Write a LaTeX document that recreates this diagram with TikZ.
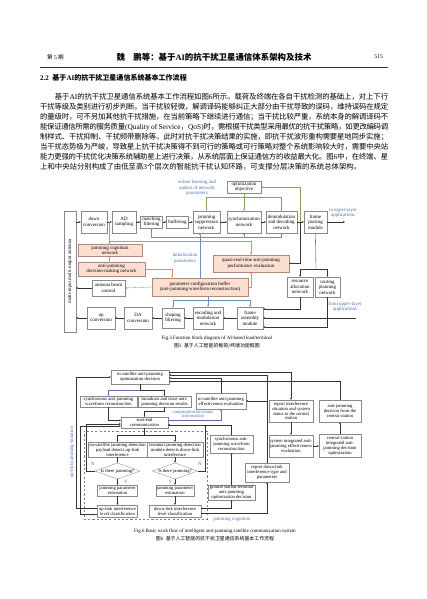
\documentclass[tikz,border=0pt]{standalone}
\usepackage{fontspec}
\setmainfont{Liberation Serif}
\newfontfamily\cjk{Noto Sans CJK SC}
\usetikzlibrary{arrows.meta, positioning, shapes.geometric, calc}

\XeTeXlinebreaklocale "zh"
\XeTeXlinebreakskip=0pt plus 2pt minus 0.6pt

\definecolor{boxline}{HTML}{8A8A8A}
\definecolor{orbox}{HTML}{B08878}
\definecolor{orfill}{HTML}{FBE0D2}
\definecolor{orline}{HTML}{E38A5E}
\definecolor{bline}{HTML}{6F8FC2}
\definecolor{btext}{HTML}{4B70AD}
\definecolor{gline}{HTML}{82A35A}
\definecolor{pline}{HTML}{7B5EAD}

\newcommand{\latn}[1]{{\rmfamily #1}}

\begin{document}
\begin{tikzpicture}[x=0.5mm, y=-0.5mm,
    blk/.style={rectangle, draw=boxline, line width=0.5pt, fill=white,
        align=center, inner xsep=0.5pt, inner ysep=0.5pt,
        font=\fontsize{7}{7.8}\selectfont},
    oblk/.style={blk, fill=orfill, draw=orbox},
    fblk/.style={blk, font=\fontsize{6.6}{7}\selectfont},
    dia/.style={diamond, aspect=2.8, draw=boxline, line width=0.5pt,
        fill=white, inner sep=0pt, font=\fontsize{6.6}{7}\selectfont},
    sz/.style 2 args={minimum width=#1*0.5mm, minimum height=#2*0.5mm},
    lbl/.style={align=center, inner sep=0pt, text=btext,
        font=\fontsize{7}{7.8}\selectfont},
    ln/.style={draw=black!80, line width=0.45pt},
    arr/.style={ln, -{Triangle[length=2.5pt, width=2.1pt]}},
    oarr/.style={arr, draw=orline},
    barr/.style={arr, draw=bline},
    garr/.style={arr, draw=gline},
    parr/.style={arr, draw=pline}
]

    \useasboundingbox[fill=white] (0,0) rectangle (427,599);

    % Page head ------------------------------------------------------

    \node[anchor=west, inner sep=0pt, font=\cjk\fontsize{8}{9}\selectfont] (issue) at (47,57) {第 \latn{5} 期};
    \node[inner sep=0pt, font=\cjk\bfseries\fontsize{12}{13}\selectfont] (title) at (214,57)
        {魏\hspace{1em}鹏等：基于\latn{\bfseries AI}的抗干扰卫星通信体系架构及技术};
    \node[anchor=east, inner sep=0pt, font=\fontsize{8}{9}\selectfont] (page) at (383,57) {515};
    \draw[line width=1.2pt, black!80] (40,67) -- (388,67);

    \node[anchor=west, inner sep=0pt, font=\cjk\bfseries\fontsize{10}{11}\selectfont] (sect) at (40,78)
        {\latn{\bfseries 2.2}\hspace{0.5em}基于\latn{\bfseries AI}的抗干扰卫星通信系统基本工作流程};

    \node[anchor=north west, inner sep=0pt, text width=174mm, align=justify,
        font=\cjk\fontsize{10.5}{14.2}\selectfont] (para) at (40,93.5) {%
        \hspace*{2em}基于\latn{AI}的抗干扰卫星通信系统基本工作流程如图\latn{6}所示。载荷及终端在各自干扰检测的基础上，对上下行\linebreak
        干扰等级及类别进行初步判断。当干扰较轻微，解调译码能够纠正大部分由干扰导致的误码，维持误码在规定\linebreak
        的量级时，可不另加其他抗干扰措施，在当前策略下继续进行通信；当干扰比较严重，系统本身的解调译码不\linebreak
        能保证通信所需的服务质量\latn{(Quality of Service}，\latn{QoS)}时，需根据干扰类型采用最优的抗干扰策略，如更改编码调\linebreak
        制样式、干扰抑制、干扰频带删除等。此时对抗干扰决策结果的实施，即抗干扰波形重构需要星地同步实施；\linebreak
        当干扰态势极为严峻，导致星上抗干扰决策得不到可行的策略或可行策略对整个系统影响较大时，需要中央站\linebreak
        能力更强的干扰优化决策系统辅助星上进行决策，从系统层面上保证通信方的收益最大化。图\latn{6}中，在终端、星\linebreak
        上和中央站分别构成了由低至高\latn{3}个层次的智能抗干扰认知环路，可支撑分层决策的系统总体架构。};

    % Fig.5 nodes ----------------------------------------------------

    \node[lbl] (olu) at (197,188) {online learning and\\update of network\\parameters};
    \node[blk, sz={34}{12}] (opt) at (244,187) {optimization\\objective};
    \node[blk, rotate=90, sz={121}{12}] (mimo) at (70,271.5) {multi-input multi-output antenna};

    \node[blk, sz={26}{22}] (dc) at (94,222) {down\\conversion};
    \node[blk, sz={24}{22}] (ad) at (124,222) {AD\\sampling};
    \node[blk, sz={22}{12}] (mf) at (151.5,222) {matching\\filtering};
    \node[blk, sz={22}{12}] (buf) at (177.5,222) {buffering};
    \node[blk, sz={27}{22}] (js) at (206.5,222) {jamming\\suppression\\network};
    \node[blk, sz={34}{22}] (sync) at (244,222) {synchronization\\network};
    \node[blk, sz={31}{22}] (demod) at (281.5,222) {demodulation\\and decoding\\network};
    \node[blk, sz={23}{22}] (fp) at (315.5,222) {frame\\parsing\\module};
    \node[lbl] (toup) at (343,213) {to upper-layer\\applications};
    \coordinate (out) at (345,222);

    \node[oblk, sz={64}{12}] (jc) at (110,250.5) {jamming cognition\\network};
    \node[oblk, sz={67}{14}] (ajd) at (111.5,269) {anti-jamming\\decision-making network};
    \node[oblk, sz={76}{17}] (qrt) at (251,263.5) {quasi-real-time anti-jamming\\performance evaluation};
    \node[lbl] (initp) at (185,258.5) {initialization\\parameters};
    \node[blk, sz={33}{16}] (abc) at (108.5,288) {antenna beam\\control};
    \node[oblk, sz={96}{18}] (pcb) at (200,287) {parameter configuration buffer\\(anti-jamming waveform reconstruction)};
    \node[blk, sz={26}{20}] (ran) at (300,287) {resource\\allocation\\network};
    \node[blk, sz={25}{20}] (rpn) at (327.5,287) {routing\\planning\\network};

    \node[blk, sz={28}{22}] (upc) at (101,318) {up\\conversion};
    \node[blk, sz={28}{22}] (dac) at (138,318) {DA\\conversion};
    \node[blk, sz={22}{20}] (shf) at (173,318) {shaping\\filtering};
    \node[blk, sz={30}{22}] (enc) at (208,318) {encoding and\\modulation\\network};
    \node[blk, sz={26}{22}] (fam) at (250,318) {frame\\assembly\\module};
    \node[lbl] (fromtxt) at (345,307) {from upper-layer\\applications};
    \coordinate (fromup) at (356,318);

    % Fig.5 connections ----------------------------------------------

    \coordinate (tap1) at (109.5,222);
    \coordinate (tap2) at (300.5,222);
    \coordinate (ojn) at (109.5,241);
    \coordinate (bj) at (200,237);
    \coordinate (gj) at (244,197);
    \coordinate (pj) at (316,269);
    \coordinate (bd) at (208,300);

    \draw[arr] (mimo.south |- dc.west) -- (dc.west);
    \draw[arr] (dc) -- (ad);
    \draw[arr] (ad) -- (mf);
    \draw[arr] (mf) -- (buf);
    \draw[arr] (buf) -- (js);
    \draw[arr] (js) -- (sync);
    \draw[arr] (sync) -- (demod);
    \draw[arr] (demod) -- (fp);
    \draw[arr] (fp) -- (out);

    \draw[oarr] (tap1) -- (tap1 |- jc.north);
    \draw[oarr] (tap1 |- jc.south) -- (tap1 |- ajd.north);
    \draw[oarr] (ojn) -| (qrt.north);
    \draw[oarr] (ajd.east) -| ([xshift=-14mm]pcb.north);
    \draw[oarr] (pcb.east) -| (qrt.south);

    \draw[barr] (pcb.north) -- (pcb.north |- js.south);
    \draw[barr] (bj) -| (mf.south);
    \draw[barr] (bj) -| (sync.south);
    \draw[barr] (bj) -| (demod.south);
    \draw[barr] (pcb.west) -- (abc.east);
    \draw[arr] (abc.west) -- (mimo.south |- abc.west);
    \draw[ln, draw=bline] (pcb.south -| bd) -- (bd);
    \draw[barr] (bd) -| (shf.north);
    \draw[barr] (bd) -- (enc.north);
    \draw[barr] (bd) -| (fam.north);

    \draw[ln, draw=gline] (opt.south) -- (gj);
    \draw[garr] (gj) -- (sync.north);
    \draw[garr] (gj) -| (js.north);
    \draw[garr] (gj) -| (demod.north);
    \draw[garr] (tap2) |- (opt.east);
    \draw[arr] (tap2) |- (qrt.east);

    \draw[arr] (fam) -- (enc);
    \draw[arr] (enc) -- (shf);
    \draw[arr] (shf) -- (dac);
    \draw[arr] (dac) -- (upc);
    \draw[arr] (upc.west) -- (mimo.south |- upc.west);
    \draw[ln] (fp.south) -- (pj);
    \draw[arr] (pj) -| (ran.north);
    \draw[arr] (pj) -| (rpn.north);
    \draw[arr] (ran.south) |- ([yshift=4.5mm]fam.east);
    \draw[arr] (rpn.south) |- ([yshift=-4.5mm]fam.east);
    \draw[arr] (fromup) -- (fam.east);

    \node[font=\fontsize{7}{8}\selectfont] (cap5) at (217,338) {Fig.5 Function block diagram of AI-based load/terminal};
    \node[font=\cjk\fontsize{7}{8}\selectfont] (cap5c) at (217,345.5) {图\latn{5}\hspace{0.5em}基于人工智能的载荷/终端功能框图};

    % Fig.6 nodes ----------------------------------------------------

    \node[draw=black!50, dashed, line width=0.5pt, sz={123}{88}] (cogbox) at (145.5,475) {};
    \node[lbl, text=pline] (cogtxt) at (232,519) {jamming cognition};

    \node[fblk, sz={58}{14}] (isd) at (140,377) {in-satellite anti-jamming\\optimization decision};
    \node[fblk, sz={57}{11}] (swr) at (108.5,401.5) {synchronous anti-jamming\\waveform reconstruction};
    \node[fblk, sz={53}{11}] (bid) at (164.5,401.5) {broadcast and issue anti-\\jamming decision results};
    \node[fblk, sz={50}{16}] (iee) at (221,401) {in-satellite anti-jamming\\effectiveness evaluation};
    \node[lbl, font=\fontsize{6.6}{7}\selectfont] (cst) at (193,414) {communication status\\information};
    \node[fblk, sz={47}{11}] (sec) at (144.5,422.5) {start/end\\communication};

    \node[fblk, sz={59}{15}] (osd) at (117.5,449.5) {on-satellite jamming detection\\payload detects up-link\\interference};
    \node[fblk, sz={56}{15}] (tjd) at (175,449.5) {terminal jamming detection\\module detects down-link\\interference};
    \node[dia] (dl) at (117.5,471) {Is there jamming?};
    \node[dia] (dr) at (175,471) {Is there jamming?};
    \node[fblk, sz={40}{11}] (jpe1) at (117.5,490.5) {jamming parameter\\estimation};
    \node[fblk, sz={38}{11}] (jpe2) at (175,490.5) {jamming parameter\\estimation};
    \node[fblk, sz={40}{12}] (ulc) at (117.5,511) {up-link interference\\level classification};
    \node[fblk, sz={52}{12}] (dlc) at (175,511) {down-link interference\\level classification};
    \node[lbl] (nl) at (93,464) {N};
    \node[lbl] (nr) at (200,464) {N};
    \node[lbl] (yl) at (126,482) {Y};
    \node[lbl] (yr) at (170.5,482) {Y};
    \node[lbl, rotate=90] (uls) at (72,452) {up-link jamming situation};

    \node[fblk, sz={43}{18}] (swr2) at (231.5,444) {synchronous anti-\\jamming waveform\\reconstruction};
    \node[fblk, sz={47}{15}] (gst) at (231.5,492.5) {ground station/terminal\\anti-jamming\\optimization decision};
    \node[fblk, sz={44}{19}] (rdl) at (267,472.5) {report down-link\\interference type and\\parameters};
    \node[fblk, sz={44}{22}] (ris) at (291,411) {report interference\\situation and system\\status to the central\\station};
    \node[fblk, sz={44}{22}] (sie) at (291,446) {system integrated anti-\\jamming effectiveness\\evaluation};
    \node[fblk, sz={42}{22}] (ajc) at (340,411) {anti-jamming\\decision from the\\central station};
    \node[fblk, sz={42}{23}] (csd) at (340,445.5) {central station\\integrated anti-\\jamming decision\\optimization};

    % Fig.6 connections ----------------------------------------------

    \coordinate (isj) at (140,390);
    \coordinate (scj) at (144.5,435);

    \draw[ln] (isd.south) -- (isj);
    \draw[parr] (isj) -| (swr.north);
    \draw[arr] (isj) -| (bid.north);
    \draw[arr] (bid.south) -- ++(0,4) -| (sec.north);
    \draw[arr] (swr.south) |- ([yshift=1mm]sec.west);
    \draw[parr] ([yshift=1mm]sec.east) -| (iee.south);

    \draw[ln] (sec.south) -- (scj);
    \draw[arr] (scj) -| (osd.north);
    \draw[arr] (scj) -| (tjd.north);
    \draw[arr] (osd) -- (dl);
    \draw[arr] (tjd) -- (dr);
    \draw[arr] (dl) -- (jpe1);
    \draw[arr] (dr) -- (jpe2);
    \draw[arr] (jpe1) -- (ulc);
    \draw[arr] (jpe2) -- (dlc);
    \draw[arr] (dl.west) -- ++(-8.5,0) |- ([yshift=-0.75mm]sec.west);
    \draw[arr] (dr.east) -- ++(7,0) |- ([yshift=-1.25mm]sec.east);
    \draw[arr] (swr2.north) |- ([yshift=-1.25mm]sec.east);
    \draw[arr] ([yshift=1.5mm]ulc.west) -- ++(-21,0) |- (isd.west);
    \draw[arr] ([yshift=-1.5mm]ulc.west) -- ++(-17,0) |- ([yshift=-1.75mm]sec.west);

    \draw[arr] ([yshift=1.5mm]dlc.east) -| (gst.south);
    \draw[arr] ([yshift=-1mm]dlc.east) -| (rdl.south);
    \draw[arr] (gst) -- (swr2);
    \draw[arr] (rdl.north) |- ([yshift=1mm]isd.east);
    \draw[arr] (rdl.north |- iee.east) -- (iee.east);
    \draw[arr] ([yshift=2.5mm]isd.east) -| (ris.north);
    \draw[arr] (iee.north) |- ([yshift=-0.5mm]isd.east);
    \draw[arr] (ajc.north) |- ([yshift=-2.25mm]isd.east);
    \draw[arr] (ris) -- (sie);
    \draw[arr] (sie.east) -- (sie.east -| csd.west);
    \draw[arr] (csd) -- (ajc);

    \node[font=\fontsize{7}{8}\selectfont] (cap6) at (215,531) {Fig.6 Basic work flow of intelligent anti-jamming satellite communication system};
    \node[font=\cjk\fontsize{7}{8}\selectfont] (cap6c) at (215,538.5) {图\latn{6}\hspace{0.5em}基于人工智能的抗干扰卫星通信系统基本工作流程};

\end{tikzpicture}
\end{document}
